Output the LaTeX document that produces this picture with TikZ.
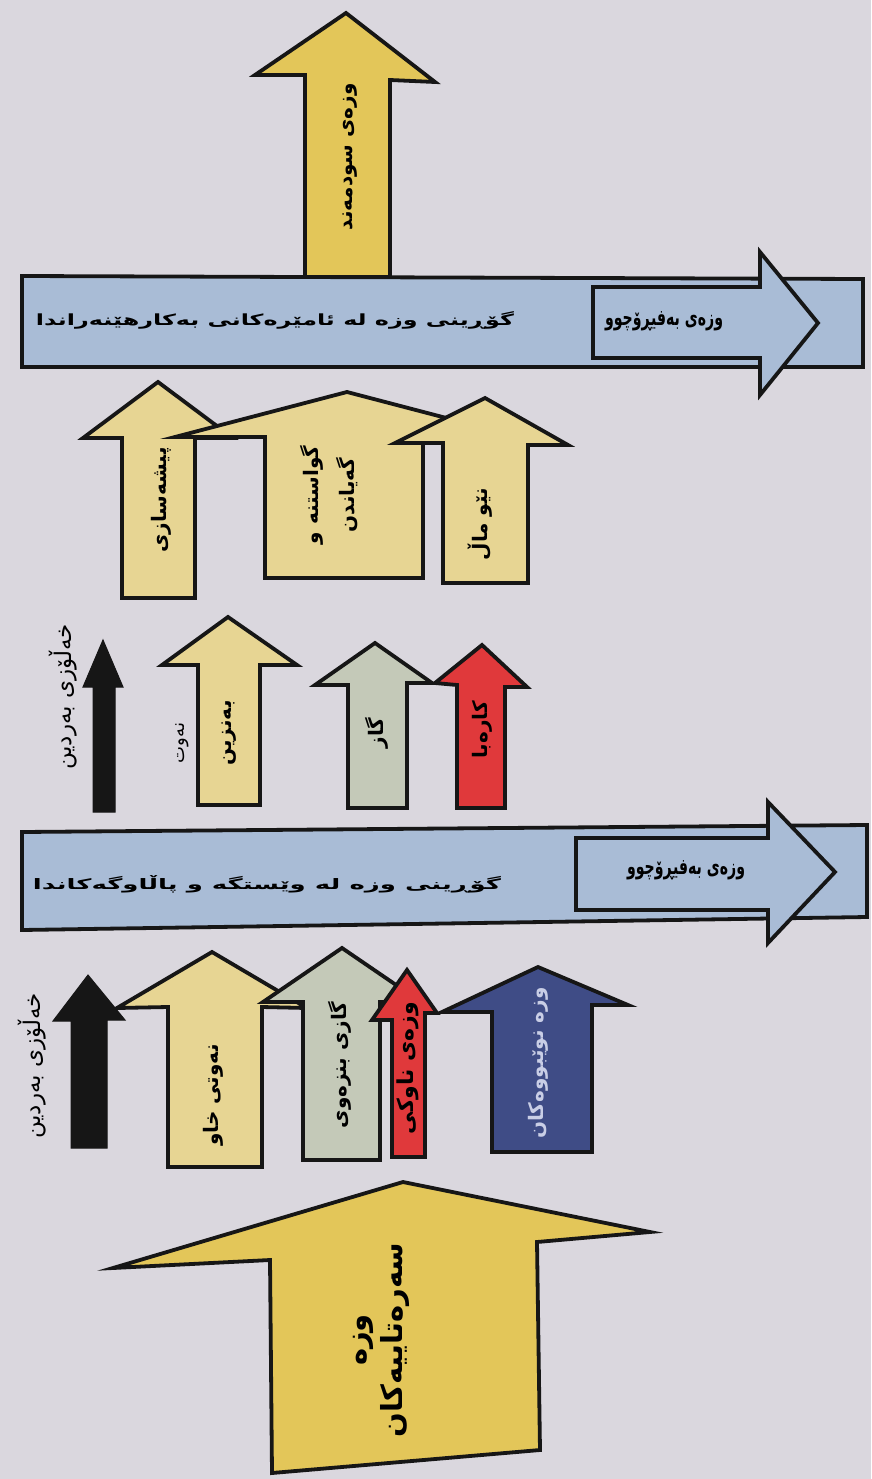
\documentclass[tikz,border=0pt]{standalone}
\usepackage{fontspec}
\newfontfamily\arabicfont[Script=Arabic]{DejaVu Sans}
\TeXXeTstate=1
\definecolor{bgc}{HTML}{DAD7DE}
\definecolor{gold}{HTML}{E3C659}
\definecolor{pale}{HTML}{E7D593}
\definecolor{sage}{HTML}{C4C9B8}
\definecolor{redc}{HTML}{E0393B}
\definecolor{navy}{HTML}{3F4C86}
\definecolor{bandc}{HTML}{A9BCD6}
\definecolor{ink}{HTML}{161616}
\definecolor{navytxt}{HTML}{C9CEE6}
\tikzset{
  outl/.style={draw=ink, line width=3.8pt, line join=miter, miter limit=20},
  lbl/.style={rotate=90, inner sep=0pt, align=center, font=\arabicfont\bfseries\fontsize{20}{40}\selectfont},
  small/.style={rotate=90, inner sep=0pt, font=\arabicfont\fontsize{23}{26}\selectfont},
  bandtxt/.style={inner sep=0pt, font=\arabicfont\bfseries\fontsize{18}{20}\selectfont},
}
\begin{document}
\begin{tikzpicture}[x=1pt,y=-1pt]
\fill[bgc] (0,0) rectangle (871,1479);
\useasboundingbox (0,0) rectangle (871,1479);

% ---------- top arrow
\draw[outl, fill=gold] (305,277) -- (305,75) -- (255,75) -- (346,13) -- (435,82) -- (390,80) -- (390,277) -- cycle;
\node[lbl] (useful) at (350,157) {\beginR وزەی سودمەند\endR};

% ---------- upper band
\draw[outl, fill=bandc] (22,276) -- (863,279) -- (863,367) -- (22,367) -- cycle;
\draw[outl, fill=bandc] (593,287) -- (760,287) -- (760,252) -- (818,323) -- (760,395) -- (760,358) -- (593,358) -- cycle;
\node[bandtxt] (band2) at (275,320) {\resizebox{478pt}{14pt}{\beginR گۆڕینی وزە لە ئامێرەکانی بەکارهێنەراندا\endR}};
\node[bandtxt] (loss2) at (664,321) {\resizebox{118pt}{14pt}{\beginR وزەی بەفیڕۆچوو\endR}};

% ---------- upper group
\draw[outl, fill=pale] (122,598) -- (122,438) -- (83,438) -- (158,382) -- (233,438) -- (195,438) -- (195,598) -- cycle;
\draw[outl, fill=pale] (265,578) -- (265,437) -- (175,437) -- (347,392) -- (519,437) -- (423,437) -- (423,578) -- cycle;
\draw[outl, fill=pale] (443,583) -- (443,443) -- (395,443) -- (485,398) -- (568,445) -- (528,445) -- (528,583) -- cycle;
\node[lbl] (industry) at (161,500) {\beginR پیشەسازی\endR};
\node[lbl, font=\arabicfont\bfseries\fontsize{20}{36}\selectfont] (transport) at (329,495) {\beginR گواستنە و\endR\\\beginR گەیاندن\endR};
\node[lbl] (home) at (480,524) {\beginR نێو ماڵ\endR};

% ---------- middle group
\draw[fill=ink, draw=ink, line width=1pt] (93,812) -- (93,687) -- (83,687) -- (103,640) -- (123,687) -- (115,687) -- (115,812) -- cycle;
\node[small] (coal2) at (63,697) {\beginR خەڵۆزی بەردین\endR};
\draw[outl, fill=pale] (198,805) -- (198,665) -- (162,665) -- (228,617) -- (297,665) -- (260,665) -- (260,805) -- cycle;
\node[small, font=\arabicfont\fontsize{18}{20}\selectfont] (oil) at (182,743) {\beginR نەوت\endR};
\node[lbl] (petrol) at (229,733) {\beginR بەنزین\endR};
\draw[outl, fill=sage] (348,808) -- (348,685) -- (315,685) -- (375,643) -- (432,683) -- (407,683) -- (407,808) -- cycle;
\node[lbl] (gas) at (377,733) {\beginR گاز\endR};
\draw[outl, fill=redc] (457,808) -- (457,685) -- (435,683) -- (482,645) -- (527,687) -- (505,687) -- (505,808) -- cycle;
\node[lbl] (elec) at (482,730) {\beginR کارەبا\endR};

% ---------- lower band
\draw[outl, fill=bandc] (22,832) -- (867,825) -- (867,917) -- (22,930) -- cycle;
\draw[outl, fill=bandc] (576,838) -- (768,838) -- (768,802) -- (835,872) -- (768,943) -- (768,910) -- (576,910) -- cycle;
\node[bandtxt] (band1) at (267,884) {\resizebox{468pt}{14pt}{\beginR گۆڕینی وزە لە وێستگە و پاڵاوگەکاندا\endR}};
\node[bandtxt] (loss1) at (686,870) {\resizebox{118pt}{14pt}{\beginR وزەی بەفیڕۆچوو\endR}};

% ---------- lower group
\draw[fill=ink, draw=ink, line width=1pt] (71,1148) -- (71,1021) -- (53,1021) -- (88,975) -- (125,1020) -- (107,1020) -- (107,1148) -- cycle;
\node[small] (coal1) at (32,1066) {\beginR خەڵۆزی بەردین\endR};
\draw[outl, fill=pale] (168,1167) -- (168,1007) -- (117,1008) -- (212,952) -- (307,1008) -- (262,1007) -- (262,1167) -- cycle;
\node[lbl] (crude) at (213,1095) {\beginR نەوتی خاو\endR};
\draw[outl, fill=sage] (303,1160) -- (303,1002) -- (263,1002) -- (342,948) -- (421,1002) -- (380,1002) -- (380,1160) -- cycle;
\node[lbl] (natgas) at (340,1065) {\beginR گازی بنزەوی\endR};
\draw[outl, fill=redc] (392,1157) -- (392,1020) -- (372,1020) -- (407,970) -- (437,1013) -- (425,1013) -- (425,1157) -- cycle;
\node[lbl, font=\arabicfont\bfseries\fontsize{22}{26}\selectfont] (nuclear) at (408,1068) {\beginR وزەی ناوکی\endR};
\draw[outl, fill=navy] (492,1152) -- (492,1012) -- (442,1012) -- (538,967) -- (628,1005) -- (592,1005) -- (592,1152) -- cycle;
\node[lbl, text=navytxt] (renew) at (538,1063) {\beginR وزە نوێبووەکان\endR};

% ---------- primary energy
\draw[outl, fill=gold] (272,1473) -- (270,1260) -- (113,1268) -- (403,1182) -- (650,1232) -- (537,1242) -- (540,1450) -- cycle;
\node[lbl, font=\arabicfont\bfseries\fontsize{29}{36}\selectfont] (primary) at (381,1340) {\beginR وزە\endR\\\beginR سەرەتاییەکان\endR};
\end{tikzpicture}
\end{document}
